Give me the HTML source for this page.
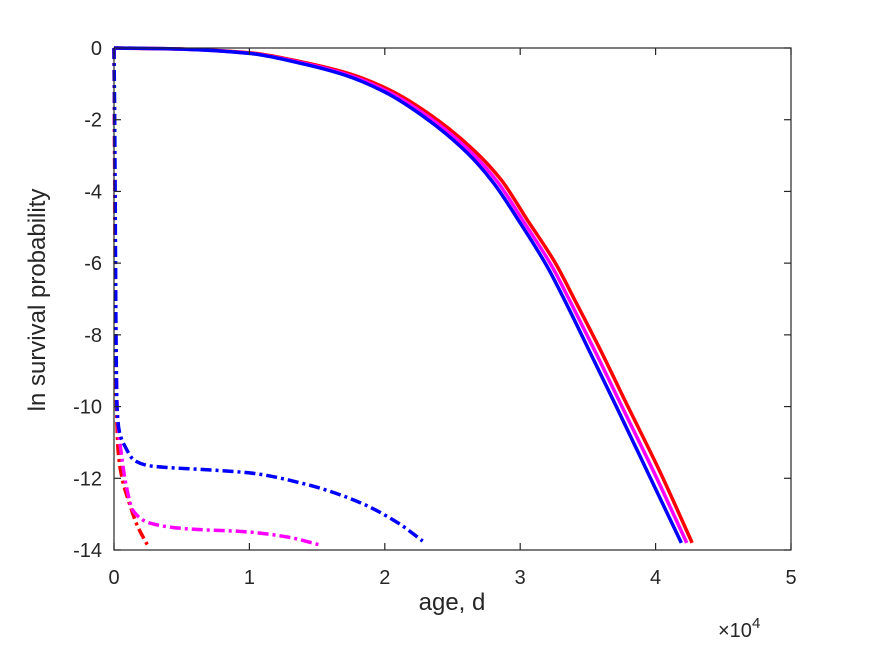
<!DOCTYPE html>
<html><head><meta charset="utf-8"><style>
html,body{margin:0;padding:0;background:#fff;}
svg{display:block;font-family:"Liberation Sans",Arial,sans-serif;}
</style></head><body>
<svg id="chart" width="875" height="656" viewBox="0 0 875 656" xmlns="http://www.w3.org/2000/svg">
<rect x="0" y="0" width="875" height="656" fill="#fff"/>
<g id="plot"></g>
<g id="axes"></g>
<text x="452" y="610" text-anchor="middle" font-size="24" fill="#262626">age, d</text>
<text transform="translate(45,300) rotate(-90)" text-anchor="middle" font-size="24" fill="#262626">ln survival probability</text>
<text x="718" y="637" font-size="20" fill="#262626">×10<tspan dy="-9" font-size="15">4</tspan></text>
</svg>
<script>
const xTicks = [0, 1, 2, 3, 4, 5];
const yTicks = [0, -2, -4, -6, -8, -10, -12, -14];
const xScaleFactor = 10000;

const blueSolidX = [0, 5000, 10000, 13700, 17000, 20000, 23000, 26100, 28000, 30000, 32000, 33500, 35300, 37100, 39500, 41900];
const blueSolidY = [0, -0.03, -0.15, -0.42, -0.75, -1.23, -1.95, -2.93, -3.75, -4.88, -6.1, -7.2, -8.6, -10.0, -11.9, -13.8];
const magentaSolidX = [0, 5050, 10100, 13850, 17200, 20200, 23250, 26350, 28300, 30250, 32300, 33800, 35650, 37450, 39900, 42300];
const magentaSolidY = [0, -0.03, -0.15, -0.41, -0.74, -1.21, -1.93, -2.9, -3.72, -4.84, -6.06, -7.15, -8.55, -9.95, -11.85, -13.8];
const redSolidX = [0, 5100, 10200, 14000, 17400, 20400, 23500, 26600, 28600, 30500, 32600, 34100, 36000, 37800, 40300, 42700];
const redSolidY = [0, -0.03, -0.14, -0.4, -0.72, -1.18, -1.9, -2.86, -3.68, -4.78, -6.0, -7.08, -8.48, -9.88, -11.8, -13.8];

const blueDashX = [0, 50, 100, 150, 220, 400, 800, 1500, 2600, 4000, 6300, 10000, 14000, 18000, 21000, 22800];
const blueDashY = [0, -2, -5, -8, -10, -10.7, -11.1, -11.5, -11.65, -11.7, -11.75, -11.85, -12.15, -12.65, -13.25, -13.75];
const magentaDashX = [0, 50, 100, 150, 250, 500, 900, 1400, 2650, 5100, 10000, 13000, 15100];
const magentaDashY = [0, -3, -6, -8.5, -10.2, -11.2, -12.2, -12.9, -13.25, -13.4, -13.5, -13.65, -13.85];
const redDashX = [0, 50, 100, 150, 300, 600, 1050, 1700, 2450];
const redDashY = [0, -3.5, -7, -9.3, -11.2, -12.0, -12.6, -13.3, -13.85];

const L = 114, R = 791, T = 48, B = 550;
function sx(v) { return L + (v / (5 * xScaleFactor)) * (R - L); }
function sy(v) { return T + (v / -14) * (B - T); }
const NS = "http://www.w3.org/2000/svg";
const plot = document.getElementById('plot');
const axes = document.getElementById('axes');

function smoothPath(xs, ys) {
  const px = xs.map(sx), py = ys.map(sy), n = px.length;
  const d = [], m = new Array(n);
  for (let i = 0; i < n - 1; i++) d.push((py[i + 1] - py[i]) / (px[i + 1] - px[i]));
  m[0] = d[0]; m[n - 1] = d[n - 2];
  for (let i = 1; i < n - 1; i++) {
    if (d[i - 1] * d[i] <= 0) m[i] = 0;
    else {
      const h0 = px[i] - px[i - 1], h1 = px[i + 1] - px[i];
      const w1 = 2 * h1 + h0, w2 = h1 + 2 * h0;
      m[i] = (w1 + w2) / (w1 / d[i - 1] + w2 / d[i]);
    }
  }
  let s = 'M' + px[0].toFixed(2) + ',' + py[0].toFixed(2);
  for (let i = 0; i < n - 1; i++) {
    const h = px[i + 1] - px[i];
    s += 'C' + (px[i] + h / 3).toFixed(2) + ',' + (py[i] + m[i] * h / 3).toFixed(2) + ' ' +
      (px[i + 1] - h / 3).toFixed(2) + ',' + (py[i + 1] - m[i + 1] * h / 3).toFixed(2) + ' ' +
      px[i + 1].toFixed(2) + ',' + py[i + 1].toFixed(2);
  }
  return s;
}

function drawLine(xs, ys, color, dash, name) {
  const p = document.createElementNS(NS, 'path');
  p.setAttribute('d', smoothPath(xs, ys));
  p.setAttribute('fill', 'none');
  p.setAttribute('stroke', color);
  p.setAttribute('stroke-width', '3.5');
  p.setAttribute('stroke-linejoin', 'round');
  if (dash) p.setAttribute('stroke-dasharray', dash);
  
  
  plot.appendChild(p);
}
drawLine(redSolidX, redSolidY, '#ff0000', null, 'red-solid-line');
drawLine(magentaSolidX, magentaSolidY, '#ff00ff', null, 'magenta-solid-line');
drawLine(blueSolidX, blueSolidY, '#0000ff', null, 'blue-solid-line');
drawLine(redDashX, redDashY, '#ff0000', '11 4 3 4', 'red-dashdot-line');
drawLine(magentaDashX, magentaDashY, '#ff00ff', '11 4 3 4', 'magenta-dashdot-line');
drawLine(blueDashX, blueDashY, '#0000ff', '11 4 3 4', 'blue-dashdot-line');

const box = document.createElementNS(NS, 'rect');
box.setAttribute('x', L); box.setAttribute('y', T);
box.setAttribute('width', R - L); box.setAttribute('height', B - T);
box.setAttribute('fill', 'none'); box.setAttribute('stroke', '#262626'); box.setAttribute('stroke-width', '1.2');


axes.appendChild(box);

function tick(x1, y1, x2, y2) {
  const l = document.createElementNS(NS, 'line');
  l.setAttribute('x1', x1); l.setAttribute('y1', y1); l.setAttribute('x2', x2); l.setAttribute('y2', y2);
  l.setAttribute('stroke', '#262626'); l.setAttribute('stroke-width', '1.2');
  
  
  axes.appendChild(l);
}
xTicks.forEach(v => {
  const x = sx(v * xScaleFactor);
  tick(x, B, x, B - 7); tick(x, T, x, T + 7);
  const t = document.createElementNS(NS, 'text');
  t.setAttribute('x', x); t.setAttribute('y', 584);
  t.setAttribute('text-anchor', 'middle'); t.setAttribute('font-size', '20'); t.setAttribute('fill', '#262626');
  t.textContent = v;
  
  
  axes.appendChild(t);
});
yTicks.forEach(v => {
  const y = sy(v);
  tick(L, y, L + 7, y); tick(R, y, R - 7, y);
  const t = document.createElementNS(NS, 'text');
  t.setAttribute('x', 102); t.setAttribute('y', y + 7);
  t.setAttribute('text-anchor', 'end'); t.setAttribute('font-size', '20'); t.setAttribute('fill', '#262626');
  t.textContent = v;
  
  
  axes.appendChild(t);
});
</script>
</body></html>
